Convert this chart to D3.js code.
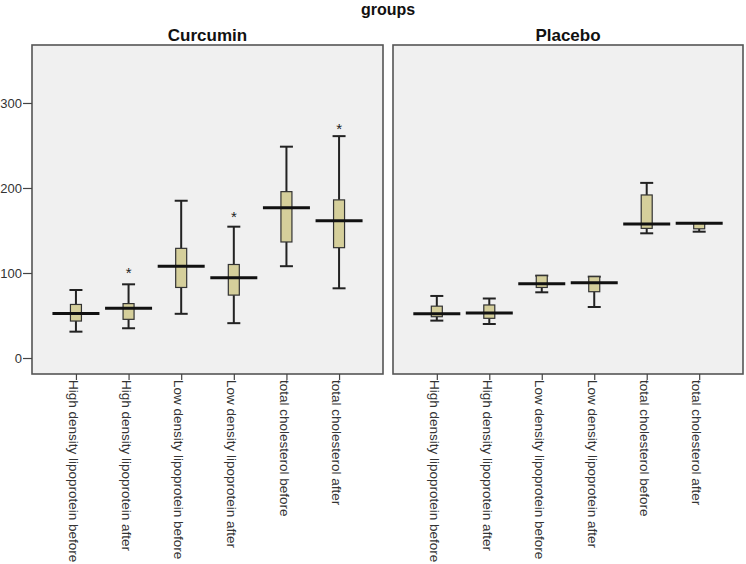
<!DOCTYPE html>
<html><head><meta charset="utf-8">
<script src="https://cdn.jsdelivr.net/npm/d3@7"></script>
<style>body{margin:0;background:#fff}svg{display:block}</style>
</head><body><svg id="c" width="746" height="564"></svg>
<script>
const groups = ["Curcumin", "Placebo"];
const categories = ["High density lipoprotein before","High density lipoprotein after","Low density lipoprotein before","Low density lipoprotein after","total cholesterol before","total cholesterol after"];
// [lowWhisker, Q1, median, Q3, highWhisker]
const curcuminStats = [
  [31, 43.5, 52.5, 63, 80],
  [35, 45.5, 58.4, 64, 86.7],
  [52, 83, 108, 129, 185],
  [41, 74, 94.5, 110, 154.5],
  [108, 136.5, 176.9, 195.7, 248.6],
  [82, 129.8, 161.6, 186, 261]
];
const placeboStats = [
  [44, 48.6, 52, 61, 73],
  [40, 46.7, 53, 62.4, 70],
  [77.3, 83, 87.5, 96.9, 96.9],
  [60, 78, 88.6, 95.7, 95.7],
  [146.7, 152.5, 157.6, 191.8, 206],
  [148.6, 152, 158.4, 158.4, 158.4]
];
// extreme outliers (*) : [categoryIndex, value]
const curcuminOutliers = [[1, 107], [3, 173], [5, 277]];
const placeboOutliers = [];
const yTicks = [0, 100, 200, 300];

const svg = d3.select("#c");
const plotTop = 45, plotBottom = 374;
const y = d3.scaleLinear().domain([-18.8, 368.2]).range([plotBottom, plotTop]);
const panels = [
  {name: groups[0], x0: 32, x1: 383, stats: curcuminStats, out: curcuminOutliers},
  {name: groups[1], x0: 393, x1: 743, stats: placeboStats, out: placeboOutliers}
];

svg.append("text").attr("x", 388).attr("y", 15).attr("text-anchor", "middle")
  .attr("font-family", "Liberation Sans, Arial, sans-serif").attr("font-weight", "bold")
  .attr("font-size", 16).attr("fill", "#111").text("groups");

panels.forEach(p => {
  const x = d3.scalePoint().domain(categories).range([p.x0, p.x1]).padding(0.835);
  const g = svg.append("g");
  g.append("rect").attr("x", p.x0).attr("y", plotTop).attr("width", p.x1 - p.x0).attr("height", plotBottom - plotTop)
    .attr("fill", "#f0f0f0").attr("stroke", "#555").attr("stroke-width", 1.6);
  g.append("text").attr("x", (p.x0 + p.x1) / 2).attr("y", 41).attr("text-anchor", "middle")
    .attr("font-family", "Liberation Sans, Arial, sans-serif").attr("font-weight", "bold")
    .attr("font-size", 17).attr("fill", "#111").text(p.name);

  const xa = g.append("g").attr("transform", `translate(0,${plotBottom})`)
    .call(d3.axisBottom(x).tickSize(6).tickSizeOuter(0).tickFormat(""));
  xa.select(".domain").remove();
  xa.selectAll(".tick line").attr("stroke", "#444").attr("stroke-width", 1.2);
  categories.forEach(c => {
    g.append("text")
      .attr("transform", `translate(${x(c)},${plotBottom + 6}) rotate(90)`)
      .attr("x", 0).attr("y", 2).attr("dy", "0.35em")
      .attr("font-family", "Liberation Sans, Arial, sans-serif").attr("font-size", 13.5)
      .attr("fill", "#333").text(c);
  });

  const boxW = 11, capW = 13, medW = 47;
  p.stats.forEach((s, i) => {
    const cx = x(categories[i]);
    const [lo, q1, med, q3, hi] = s;
    const bg = g.append("g");
    bg.append("line").attr("x1", cx).attr("x2", cx).attr("y1", y(hi)).attr("y2", y(q3))
      .attr("stroke", "#222").attr("stroke-width", 2);
    bg.append("line").attr("x1", cx).attr("x2", cx).attr("y1", y(q1)).attr("y2", y(lo))
      .attr("stroke", "#222").attr("stroke-width", 2);
    [lo, hi].forEach(v => bg.append("line").attr("x1", cx - capW / 2).attr("x2", cx + capW / 2)
      .attr("y1", y(v)).attr("y2", y(v)).attr("stroke", "#222").attr("stroke-width", 2));
    bg.append("rect").attr("x", cx - boxW / 2).attr("y", y(q3)).attr("width", boxW)
      .attr("height", Math.max(0.5, y(q1) - y(q3))).attr("fill", "#d5cf9b")
      .attr("stroke", "#333").attr("stroke-width", 1.2);
    bg.append("line").attr("x1", cx - medW / 2).attr("x2", cx + medW / 2)
      .attr("y1", y(med)).attr("y2", y(med)).attr("stroke", "#111").attr("stroke-width", 3);
  });
  p.out.forEach(([i, v]) => {
    g.append("text").attr("x", x(categories[i])).attr("y", y(v)).attr("dy", "0.75em")
      .attr("text-anchor", "middle").attr("font-family", "Liberation Sans, Arial, sans-serif")
      .attr("font-size", 15).attr("fill", "#222").text("*");
  });
});

const ya = svg.append("g").attr("transform", "translate(32,0)")
  .call(d3.axisLeft(y).tickValues(yTicks).tickSize(9).tickFormat(d3.format("d")));
ya.select(".domain").remove();
ya.selectAll(".tick line").attr("stroke", "#444").attr("stroke-width", 1.2);
ya.selectAll(".tick text").attr("font-family", "Liberation Sans, Arial, sans-serif")
  .attr("font-size", 13).attr("fill", "#333").attr("x", -10);
</script></body></html>
